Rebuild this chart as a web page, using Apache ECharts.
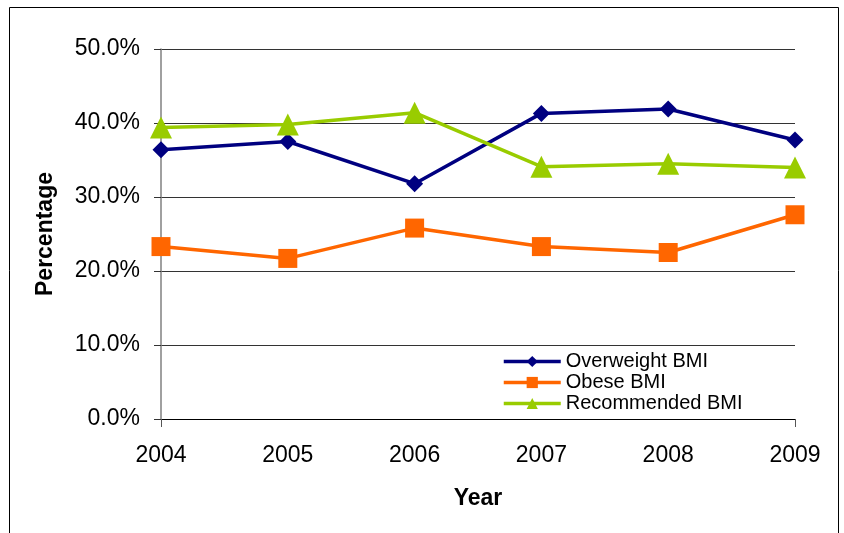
<!DOCTYPE html>
<html>
<head>
<meta charset="utf-8">
<script src="https://cdn.jsdelivr.net/npm/echarts@6/dist/echarts.min.js"></script>
<style>
  html, body { margin: 0; padding: 0; background: #fff; }
  #chart { width: 844px; height: 533px; }
</style>
</head>
<body>
<div id="chart"></div>
<script>
// BMI category shares by survey year (percent)
const years = ['2004', '2005', '2006', '2007', '2008', '2009'];
const overweight = [36.4, 37.5, 31.8, 41.3, 41.9, 37.7];
const obese = [23.3, 21.7, 25.8, 23.3, 22.5, 27.6];
const recommended = [39.4, 39.8, 41.4, 34.1, 34.5, 34.0];

const FONT = '"Liberation Sans", Arial, sans-serif';

const chart = echarts.init(document.getElementById('chart'));

function lineSeries(name, data, color, symbol, size) {
  return {
    name: name,
    type: 'line',
    data: data,
    symbol: symbol,
    symbolSize: size,
    showAllSymbol: true,
    lineStyle: { color: color, width: 3.5 },
    itemStyle: { color: color },
    emphasis: { disabled: true },
    animation: false
  };
}

chart.setOption({
  animation: false,
  textStyle: { fontFamily: FONT },
  graphic: [{
    type: 'rect',
    shape: { x: 9.5, y: 7.5, width: 829, height: 540 },
    style: { fill: 'none', stroke: '#000', lineWidth: 1 },
    silent: true,
    z: -1
  }],
  grid: { left: 161, right: 49, top: 49, bottom: 114 },
  legend: {
    orient: 'vertical',
    left: 502,
    top: 351,
    padding: 0,
    itemWidth: 57,
    itemHeight: 14,
    itemGap: 0,
    lineStyle: { width: 3.5 },
    textStyle: { fontFamily: FONT, fontSize: 20, lineHeight: 21, color: '#000' },
    data: ['Overweight BMI', 'Obese BMI', 'Recommended BMI']
  },
  xAxis: {
    type: 'category',
    data: years,
    boundaryGap: false,
    name: 'Year',
    nameLocation: 'middle',
    nameGap: 68,
    nameTextStyle: { fontFamily: FONT, fontSize: 23, fontWeight: 'bold', color: '#000' },
    axisLine: { show: true, lineStyle: { color: '#000', width: 1 } },
    axisTick: {
      show: true,
      length: 8,
      interval: function (index) { return index === 0 || index === years.length - 1; },
      lineStyle: { color: '#555', width: 1 }
    },
    axisLabel: { fontFamily: FONT, fontSize: 23, color: '#000', margin: 25 },
    splitLine: { show: false }
  },
  yAxis: {
    type: 'value',
    min: 0,
    max: 50,
    interval: 10,
    name: 'Percentage',
    nameLocation: 'middle',
    nameRotate: 90,
    nameGap: 104,
    nameTextStyle: { fontFamily: FONT, fontSize: 23, fontWeight: 'bold', color: '#000' },
    axisLine: { show: true, lineStyle: { color: '#808080', width: 1.5 } },
    axisTick: { show: true, length: 7, lineStyle: { color: '#333', width: 1 } },
    axisLabel: {
      fontFamily: FONT, fontSize: 23, color: '#000', margin: 21,
      formatter: function (v) { return v.toFixed(1) + '%'; }
    },
    splitLine: { show: true, lineStyle: { color: '#333', width: 1 } }
  },
  series: [
    lineSeries('Overweight BMI', overweight, '#000080', 'diamond', 17),
    lineSeries('Obese BMI', obese, '#FF6600', 'rect', 19),
    lineSeries('Recommended BMI', recommended, '#99CC00', 'triangle', 22)
  ]
});
</script>
</body>
</html>
